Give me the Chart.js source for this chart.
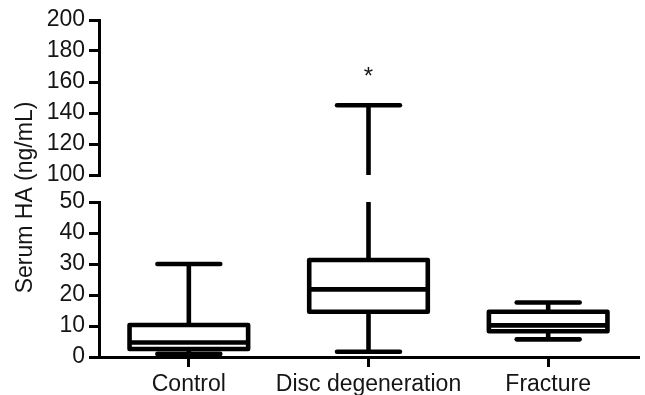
<!DOCTYPE html>
<html>
<head>
<meta charset="utf-8">
<script src="https://cdn.jsdelivr.net/npm/chart.js@4.4.1/dist/chart.umd.min.js"></script>
<style>
  html, body { margin: 0; padding: 0; background: #fff; }
  #wrap { width: 645px; height: 395px; }
</style>
</head>
<body>
<div id="wrap"><canvas id="chart"></canvas></div>
<script>
// box plot values (ng/mL)
const categories = ['Control', 'Disc degeneration', 'Fracture'];
const whiskerLow = [1, 1.7, 5.7];
const quartile1 = [2.6, 14.6, 8.3];
const medians = [4.7, 21.8, 10.2];
const quartile3 = [10.3, 31.3, 14.6];
const whiskerHigh = [30, 145, 17.6];
const starLevel = [null, 166, null];

// broken axis segments
const lowerRange = [0, 50];
const upperRange = [100, 200];
const lowerStep = 10;
const upperStep = 20;

const FONT = 'Liberation Sans, Arial, Helvetica, sans-serif';
const INK = '#151515';

const fixWidth = (scale) => { scale.width = 99; };

const axisStyle = {
  grid: { drawOnChartArea: false, tickLength: 10, lineWidth: 3, color: '#000' },
  border: { width: 3, color: '#000' },
  ticks: { color: INK, padding: 4, autoSkip: false, font: { family: FONT, size: 23 } },
  afterFit: fixWidth,
};

// draw the boxes, whiskers, caps and the asterisk from the scales
const boxPlot = {
  id: 'boxPlot',
  afterDatasetsDraw(chart) {
    const { ctx, scales } = chart;
    const xs = scales.x, top = scales.yTop, bot = scales.yBot;
    const band = xs.getPixelForValue(1) - xs.getPixelForValue(0);
    const boxHalf = band * 0.33;
    const capHalf = band * 0.175;

    const vline = (x, y1, y2) => {
      ctx.beginPath(); ctx.moveTo(x, y1); ctx.lineTo(x, y2); ctx.stroke();
    };
    const cap = (x, y) => {
      ctx.save(); ctx.lineCap = 'round';
      ctx.beginPath(); ctx.moveTo(x - capHalf, y); ctx.lineTo(x + capHalf, y); ctx.stroke();
      ctx.restore();
    };
    // whisker that may cross the axis break
    const whisker = (x, from, to) => {
      if (to <= lowerRange[1]) {
        vline(x, bot.getPixelForValue(from), bot.getPixelForValue(to));
      } else {
        vline(x, bot.getPixelForValue(from), bot.getPixelForValue(lowerRange[1]));
        vline(x, top.getPixelForValue(upperRange[0]), top.getPixelForValue(to));
      }
    };
    const yOf = (v) => (v > lowerRange[1] ? top : bot).getPixelForValue(v);

    ctx.save();
    ctx.strokeStyle = '#000';
    ctx.lineWidth = 4.6;
    ctx.lineJoin = 'round';
    categories.forEach((c, i) => {
      const x = xs.getPixelForValue(i);
      whisker(x, quartile3[i], whiskerHigh[i]);
      vline(x, bot.getPixelForValue(quartile1[i]), bot.getPixelForValue(whiskerLow[i]));
      cap(x, yOf(whiskerHigh[i]));
      cap(x, yOf(whiskerLow[i]));

      const yq3 = bot.getPixelForValue(quartile3[i]);
      const yq1 = bot.getPixelForValue(quartile1[i]);
      ctx.fillStyle = '#fff';
      ctx.fillRect(x - boxHalf, yq3, boxHalf * 2, yq1 - yq3);
      ctx.strokeRect(x - boxHalf, yq3, boxHalf * 2, yq1 - yq3);
      const ym = bot.getPixelForValue(medians[i]);
      ctx.beginPath(); ctx.moveTo(x - boxHalf, ym); ctx.lineTo(x + boxHalf, ym); ctx.stroke();

      if (starLevel[i] != null) {
        ctx.fillStyle = INK;
        ctx.font = '24px ' + FONT;
        ctx.textAlign = 'center';
        ctx.textBaseline = 'alphabetic';
        ctx.fillText('*', x, yOf(starLevel[i]) + 11);
      }
    });
    ctx.restore();

    // y axis title, centred on the whole broken axis
    ctx.save();
    ctx.fillStyle = INK;
    ctx.font = '23px ' + FONT;
    ctx.textAlign = 'center';
    ctx.textBaseline = 'middle';
    ctx.translate(26, (chart.chartArea.top + chart.chartArea.bottom) / 2 + 9);
    ctx.rotate(-Math.PI / 2);
    ctx.fillText('Serum HA (ng/mL)', 0, 0);
    ctx.restore();
  },
};

new Chart(document.getElementById('chart'), {
  type: 'bar',
  data: { labels: categories, datasets: [] },
  options: {
    responsive: true,
    maintainAspectRatio: false,
    animation: false,
    layout: { padding: { top: 20, right: 7, left: 0, bottom: 0 } },
    plugins: { legend: { display: false }, tooltip: { enabled: false } },
    scales: {
      x: {
        type: 'category',
        offset: true,
        grid: { drawOnChartArea: false, offset: false, tickLength: 10, lineWidth: 3, color: '#000' },
        border: { width: 3, color: '#000' },
        ticks: {
          color: INK, padding: 4, autoSkip: false, maxRotation: 0, minRotation: 0,
          font: { family: FONT, size: 23 },
        },
        afterFit: (scale) => { scale.height = 38; },
      },
      yTop: {
        ...axisStyle,
        type: 'linear',
        position: 'left',
        stack: 'broken',
        stackWeight: 155,
        weight: 3,
        min: upperRange[0],
        max: upperRange[1],
        ticks: { ...axisStyle.ticks, stepSize: upperStep },
      },
      yGap: {
        type: 'linear',
        position: 'left',
        stack: 'broken',
        stackWeight: 27,
        weight: 2,
        min: 0,
        max: 1,
        grid: { display: false },
        border: { display: false },
        ticks: { display: false },
        afterFit: fixWidth,
      },
      yBot: {
        ...axisStyle,
        type: 'linear',
        position: 'left',
        stack: 'broken',
        stackWeight: 155,
        weight: 1,
        min: lowerRange[0],
        max: lowerRange[1],
        ticks: { ...axisStyle.ticks, stepSize: lowerStep },
      },
    },
  },
  plugins: [boxPlot],
});
</script>
</body>
</html>
